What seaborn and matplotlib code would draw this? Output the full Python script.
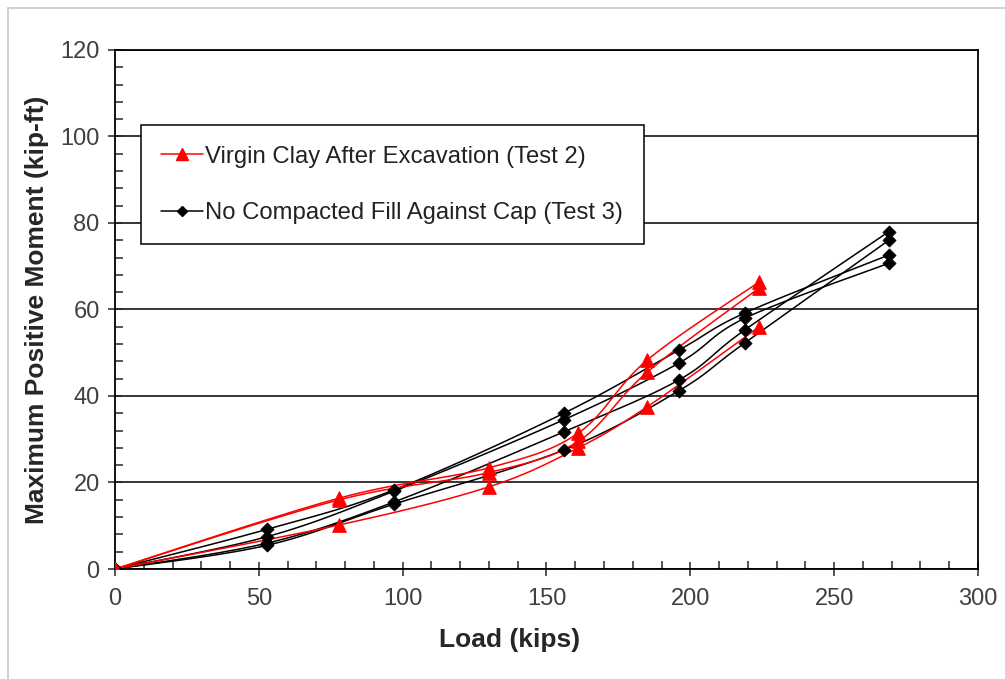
import numpy as np
import pandas as pd
import matplotlib
matplotlib.use('Agg')
import matplotlib.pyplot as plt
from matplotlib.lines import Line2D
from matplotlib.ticker import MultipleLocator
import seaborn as sns

# Test 2 - virgin clay after excavation (red triangles)
load_t2 = [0, 78, 130, 161, 185, 224]
moment_t2_a = [0, 16.4, 23.4, 31.4, 48.3, 66.4]
moment_t2_b = [0, 16.0, 22.3, 29.5, 45.5, 65.0]
moment_t2_c = [0, 10.2, 19.0, 28.0, 37.5, 56.0]

# Test 3 - no compacted fill against cap (black diamonds)
load_t3 = [0, 53, 97, 156, 196, 219, 269]
moment_t3_a = [0, 9.2, 18.3, 36.0, 50.6, 59.2, 72.6]
moment_t3_b = [0, 7.5, 18.0, 34.5, 47.6, 58.0, 70.7]
moment_t3_c = [0, 6.0, 15.5, 31.7, 43.7, 55.3, 78.0]
moment_t3_d = [0, 5.5, 15.0, 27.5, 41.2, 52.3, 76.0]

label_t2 = 'Virgin Clay After Excavation (Test 2)'
label_t3 = 'No Compacted Fill Against Cap (Test 3)'


def smooth(x, y, n=20):
    # Excel-style smoothed line (Catmull-Rom bezier through the points)
    x = np.asarray(x, float)
    y = np.asarray(y, float)
    px = np.concatenate([[x[0]], x, [x[-1]]])
    py = np.concatenate([[y[0]], y, [y[-1]]])
    t = np.linspace(0, 1, n)
    xs, ys = [], []
    for i in range(1, len(px) - 2):
        for p, out in ((px, xs), (py, ys)):
            p0, p1, p2, p3 = p[i - 1], p[i], p[i + 1], p[i + 2]
            out.extend((1 - t) ** 3 * p1
                       + 3 * (1 - t) ** 2 * t * (p1 + (p2 - p0) / 6)
                       + 3 * (1 - t) * t ** 2 * (p2 - (p3 - p1) / 6)
                       + t ** 3 * p2)
    return xs, ys


sns.set_style('white')
plt.rcParams['font.family'] = ['Liberation Sans', 'DejaVu Sans']

fig = plt.figure(figsize=(10.05, 6.79), dpi=100)
ax = fig.add_axes([0.1144, 0.162, 0.8587, 0.7644])

rows = []
for k, m in enumerate([moment_t3_a, moment_t3_b, moment_t3_c, moment_t3_d]):
    sx, sy = smooth(load_t3, m)
    rows.append(pd.DataFrame({'x': sx, 'y': sy, 'curve': f't3_{k}'}))
lines_t3 = pd.concat(rows)
rows = []
for k, m in enumerate([moment_t2_a, moment_t2_b, moment_t2_c]):
    sx, sy = smooth(load_t2, m)
    rows.append(pd.DataFrame({'x': sx, 'y': sy, 'curve': f't2_{k}'}))
lines_t2 = pd.concat(rows)

pts_t3 = pd.DataFrame({'x': load_t3 * 4,
                       'y': moment_t3_a + moment_t3_b + moment_t3_c + moment_t3_d})
pts_t2 = pd.DataFrame({'x': load_t2 * 3,
                       'y': moment_t2_a + moment_t2_b + moment_t2_c})

sns.lineplot(data=lines_t3, x='x', y='y', units='curve', estimator=None, sort=False,
             color='black', lw=1.1, ax=ax, zorder=3)
sns.lineplot(data=lines_t2, x='x', y='y', units='curve', estimator=None, sort=False,
             color='#ff0000', lw=1.1, ax=ax, zorder=4)
sns.scatterplot(data=pts_t3, x='x', y='y', marker='D', s=45, color='black',
                edgecolor='black', ax=ax, zorder=5)
sns.scatterplot(data=pts_t2, x='x', y='y', marker='^', s=95, color='#ff0000',
                edgecolor='#ff0000', ax=ax, zorder=6)

ax.set_xlim(0, 300)
ax.set_ylim(0, 120)
ax.xaxis.set_major_locator(MultipleLocator(50))
ax.xaxis.set_minor_locator(MultipleLocator(10))
ax.yaxis.set_major_locator(MultipleLocator(20))
ax.yaxis.set_minor_locator(MultipleLocator(4))
ax.grid(axis='y', which='major', color='black', lw=1.1)
ax.set_axisbelow(True)
for s in ax.spines.values():
    s.set_color('black')
    s.set_linewidth(1.3)
ax.tick_params(which='major', direction='inout', length=10, width=1.1,
               labelsize=17, labelcolor='#404040', bottom=True, left=True)
ax.tick_params(axis='x', which='major', pad=9)
ax.tick_params(axis='y', which='major', pad=6)
ax.tick_params(which='minor', direction='in', length=6, width=1.1,
               bottom=True, left=True)

ax.set_xlabel('Load (kips)', fontsize=19, fontweight='bold')
ax.xaxis.set_label_coords(0.457, -0.113)
ax.set_ylabel('Maximum Positive Moment (kip-ft)', fontsize=19, fontweight='bold')
ax.yaxis.set_label_coords(-0.077, 0.5)

handles = [Line2D([], [], color='#ff0000', marker='^', ms=9, lw=1.1),
           Line2D([], [], color='black', marker='D', ms=5.5, lw=1.1)]
leg = ax.legend(handles, [label_t2, label_t3], loc='upper left',
                bbox_to_anchor=(0.03, 0.855), fontsize=17.2, frameon=True,
                fancybox=False, edgecolor='black', framealpha=1,
                handlelength=1.75, handletextpad=0.1, labelspacing=1.45,
                borderpad=0.85, borderaxespad=0)
leg.get_frame().set_linewidth(1.1)
for t in leg.get_texts():
    t.set_color('#222222')

fig.add_artist(Line2D([0.008, 0.008], [0, 0.988], transform=fig.transFigure,
                      color='#c8c8c8', lw=1.2))
fig.add_artist(Line2D([0.008, 1], [0.988, 0.988], transform=fig.transFigure,
                      color='#c8c8c8', lw=1.2))

fig.savefig('out.png', dpi=100)
